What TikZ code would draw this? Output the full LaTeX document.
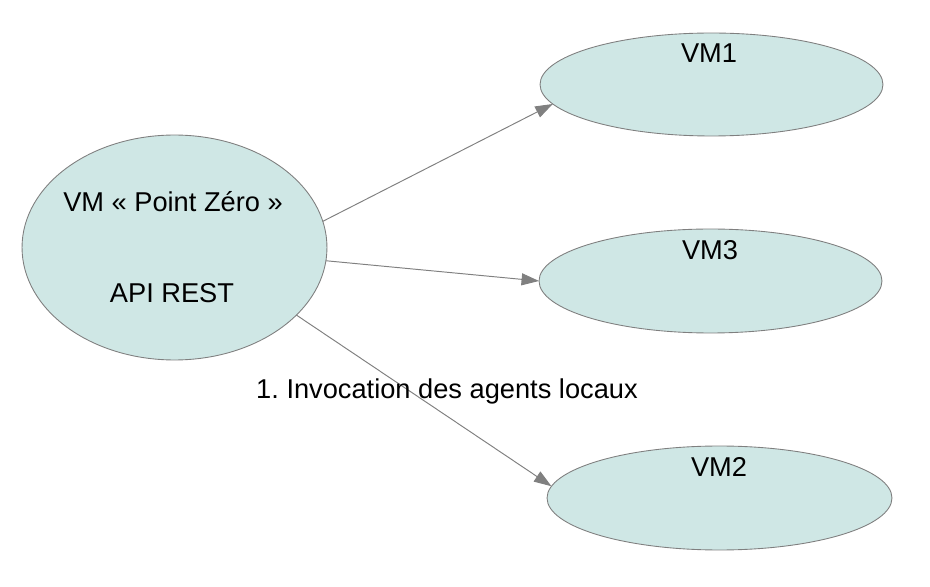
\documentclass[tikz,border=0pt]{standalone}
\usepackage{fontspec}
\setmainfont{Liberation Sans}
\usetikzlibrary{arrows.meta,shapes.geometric}
\definecolor{VmFill}{HTML}{CFE7E5}
\definecolor{VmLine}{HTML}{7F7F7F}
\definecolor{ArrGray}{HTML}{808080}
\frenchspacing

\begin{document}
\begin{tikzpicture}[
    x=0.02cm,y=-0.02cm,
    vm/.style={ellipse,draw=VmLine,line width=0.5pt,fill=VmFill,
      inner sep=0pt,outer sep=0pt},
    txt/.style={anchor=base,inner sep=0pt,font=\fontsize{15.5}{18}\selectfont},
    arr/.style={-{Triangle[length=3.5mm,width=2.4mm]},line width=0.55pt,draw=ArrGray,color=ArrGray}
  ]
    \useasboundingbox (0,0) rectangle (930,587);
    % machines
    \node[vm,minimum width=6.10cm,minimum height=4.50cm] (pz) at (174.5,247.5) {};
    \node[vm,minimum width=6.86cm,minimum height=2.06cm] (vm1) at (711.5,84.5) {};
    \node[vm,minimum width=6.86cm,minimum height=2.08cm] (vm3) at (710.5,281) {};
    \node[vm,minimum width=6.90cm,minimum height=2.08cm] (vm2) at (719.5,498) {};
    % texts
    \node[txt] (pztitle) at (173,212) {VM « Point Zéro »};
    \node[txt] (pzapi) at (172,303) {API REST};
    \node[txt] (vm1txt) at (709,63) {VM1};
    \node[txt] (vm3txt) at (710,260) {VM3};
    \node[txt] (vm2txt) at (719,477) {VM2};
    % invocations
    \draw[arr] (pz.10) -- (vm1.187);
    \draw[arr] (pz.-5) -- (vm3.180);
    \draw[arr] (pz.-29) -- (vm2.176);
    \node[txt] (invoc) at (447,399) {1. Invocation des agents locaux};
  \end{tikzpicture}
\end{document}
